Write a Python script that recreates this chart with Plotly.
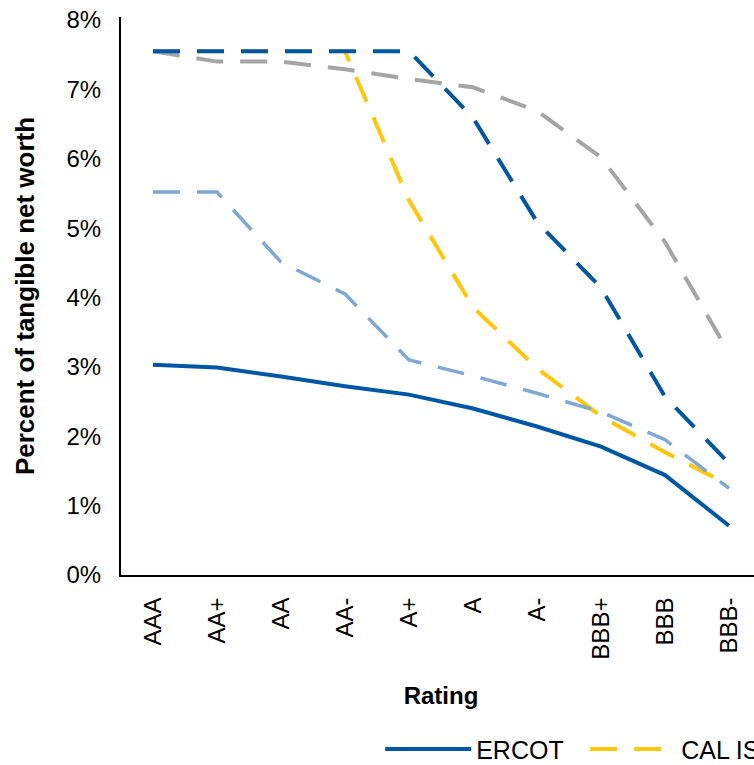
import plotly.graph_objects as go

# Required collateral as a percent of tangible net worth, by credit rating
ratings = ["AAA", "AA+", "AA", "AA-", "A+", "A", "A-", "BBB+", "BBB", "BBB-"]
pct_ticks = [0, 1, 2, 3, 4, 5, 6, 7, 8]
pct_labels = [f"{v}%" for v in pct_ticks]

ercot = [3.03, 2.99, 2.86, 2.72, 2.60, 2.40, 2.14, 1.85, 1.44, 0.71]
cal_iso = [7.55, 7.55, 7.55, 7.55, 5.40, 3.86, 2.98, 2.29, 1.77, 1.30]
nyiso = [5.52, 5.52, 4.51, 4.05, 3.10, 2.87, 2.62, 2.35, 1.95, 1.25]
miso = [7.55, 7.40, 7.40, 7.29, 7.15, 7.03, 6.69, 6.02, 4.80, 3.20]
pjm = [7.55, 7.55, 7.55, 7.55, 7.55, 6.59, 5.09, 4.14, 2.57, 1.61]

series_names = ["ERCOT", "CAL ISO", "NYISO", "MISO", "PJM"]
series_values = [ercot, cal_iso, nyiso, miso, pjm]
series_colors = ["#0057A6", "#FFC60B", "#7DA8D5", "#A5A5A5", "#0057A6"]
series_dash = ["solid", "27px,17px", "27px,17px", "27px,17px", "27px,17px"]
series_width = [4, 4, 3.5, 4, 4]

FONT = "Liberation Sans, Arial, sans-serif"

fig = go.Figure()
for name, vals, col, dash, w in zip(series_names, series_values, series_colors,
                                    series_dash, series_width):
    fig.add_trace(go.Scatter(
        x=ratings, y=vals, name=name, mode="lines",
        line=dict(color=col, width=w, dash=dash),
    ))

W, H = 1700, 765
left, right_px, top, bottom_px = 121, 761, 17, 575

fig.update_layout(
    width=W, height=H,
    margin=dict(l=left, r=W - right_px, t=top, b=H - bottom_px, autoexpand=False),
    plot_bgcolor="white", paper_bgcolor="white",
    font=dict(family=FONT, size=24, color="#000000"),
    showlegend=True,
    legend=dict(
        orientation="h", x=0.405, xanchor="left",
        y=-0.271, yanchor="top",
        font=dict(size=25, family=FONT, color="#000000"),
        itemwidth=86, entrywidth=104, entrywidthmode="pixels",
        bgcolor="rgba(0,0,0,0)",
    ),
    xaxis=dict(
        type="category", categoryorder="array", categoryarray=ratings,
        range=[-0.5, 9.5], automargin=False,
        showline=True, linecolor="#000000", linewidth=2,
        showgrid=False, zeroline=False,
        ticks="outside", ticklen=11, tickcolor="rgba(0,0,0,0)",
        tickangle=-90, tickfont=dict(size=24),
        title=dict(text="<b>Rating</b>", font=dict(size=24), standoff=29),
    ),
    yaxis=dict(
        range=[0, 8.043], automargin=False,
        tickmode="array", tickvals=pct_ticks, ticktext=pct_labels,
        showline=True, linecolor="#000000", linewidth=2,
        showgrid=False, zeroline=False,
        ticks="outside", ticklen=13, tickcolor="rgba(0,0,0,0)",
        tickfont=dict(size=24),
        title=dict(text="<b>Percent of tangible net worth</b>",
                   font=dict(size=26), standoff=24),
    ),
)

fig.write_html(
    "out.html",
    post_script="document.documentElement.style.overflow='hidden';"
                "document.body.style.overflow='hidden';",
)
